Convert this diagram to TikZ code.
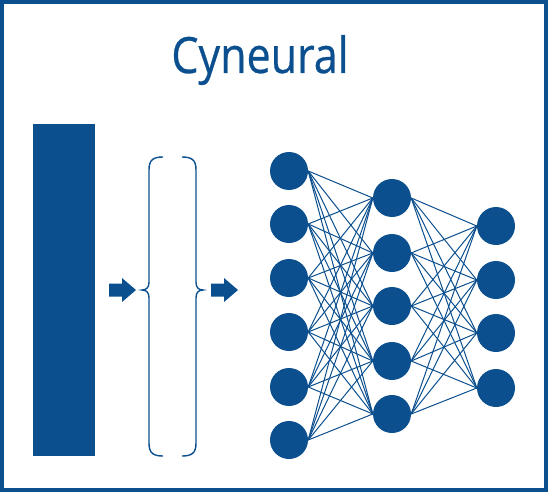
\documentclass[tikz,border=0pt]{standalone}
\usepackage{fontspec}
\setmainfont{Open Sans}
\newfontfamily\titlefont[FakeBold=0.6]{Open Sans}
\definecolor{cyblue}{HTML}{0B4F8F}
\begin{document}
\begin{tikzpicture}[x=1pt,y=-1pt,
  neuron/.style={circle,fill=cyblue,minimum size=38pt,inner sep=0pt},
  conn/.style={draw=cyblue,line width=1pt},
  bracestyle/.style={draw=cyblue,line width=1.4pt},
  blockarrow/.style={fill=cyblue}]
\useasboundingbox (0,0) rectangle (548,492);
\draw[cyblue,line width=4pt] (2,2) rectangle (546,490);
\node[text=cyblue,font=\titlefont\fontsize{50}{50}\selectfont,xscale=0.86,inner sep=0pt,anchor=base] (title) at (260,73) {Cyneural};
\fill[cyblue] (33,124) rectangle (95,456);
% arrows
\fill[blockarrow] (109,283.5) -- (122,283.5) -- (122,278) -- (136,290) -- (122,302) -- (122,296.5) -- (109,296.5) -- cycle;
\fill[blockarrow] (211,283.5) -- (224,283.5) -- (224,278) -- (238,290) -- (224,302) -- (224,296.5) -- (211,296.5) -- cycle;
% braces
\draw[bracestyle] (163,157) .. controls (153,157) and (149,160) .. (149,170) -- (149,282) .. controls (149,287) and (147,290) .. (142,290) .. controls (147,290) and (149,293) .. (149,298) -- (149,443) .. controls (149,453) and (153,456) .. (163,456);
\draw[bracestyle] (182,157) .. controls (192,157) and (196,160) .. (196,170) -- (196,282) .. controls (196,287) and (198,290) .. (203,290) .. controls (198,290) and (196,293) .. (196,298) -- (196,443) .. controls (196,453) and (192,456) .. (182,456);
% neurons
\foreach \i/\y in {1/171,2/224,3/278,4/332,5/387,6/440} \node[neuron] (a\i) at (289,\y) {};
\foreach \i/\y in {1/198,2/253,3/306,4/361,5/414} \node[neuron] (b\i) at (392,\y) {};
\foreach \i/\y in {1/226,2/280,3/333,4/388} \node[neuron] (c\i) at (496,\y) {};
\foreach \i in {1,...,6} \foreach \j in {1,...,5} \draw[conn] (a\i.east) -- (b\j.west);
\foreach \i in {1,...,5} \foreach \j in {1,...,4} \draw[conn] (b\i.east) -- (c\j.west);
\end{tikzpicture}
\end{document}
